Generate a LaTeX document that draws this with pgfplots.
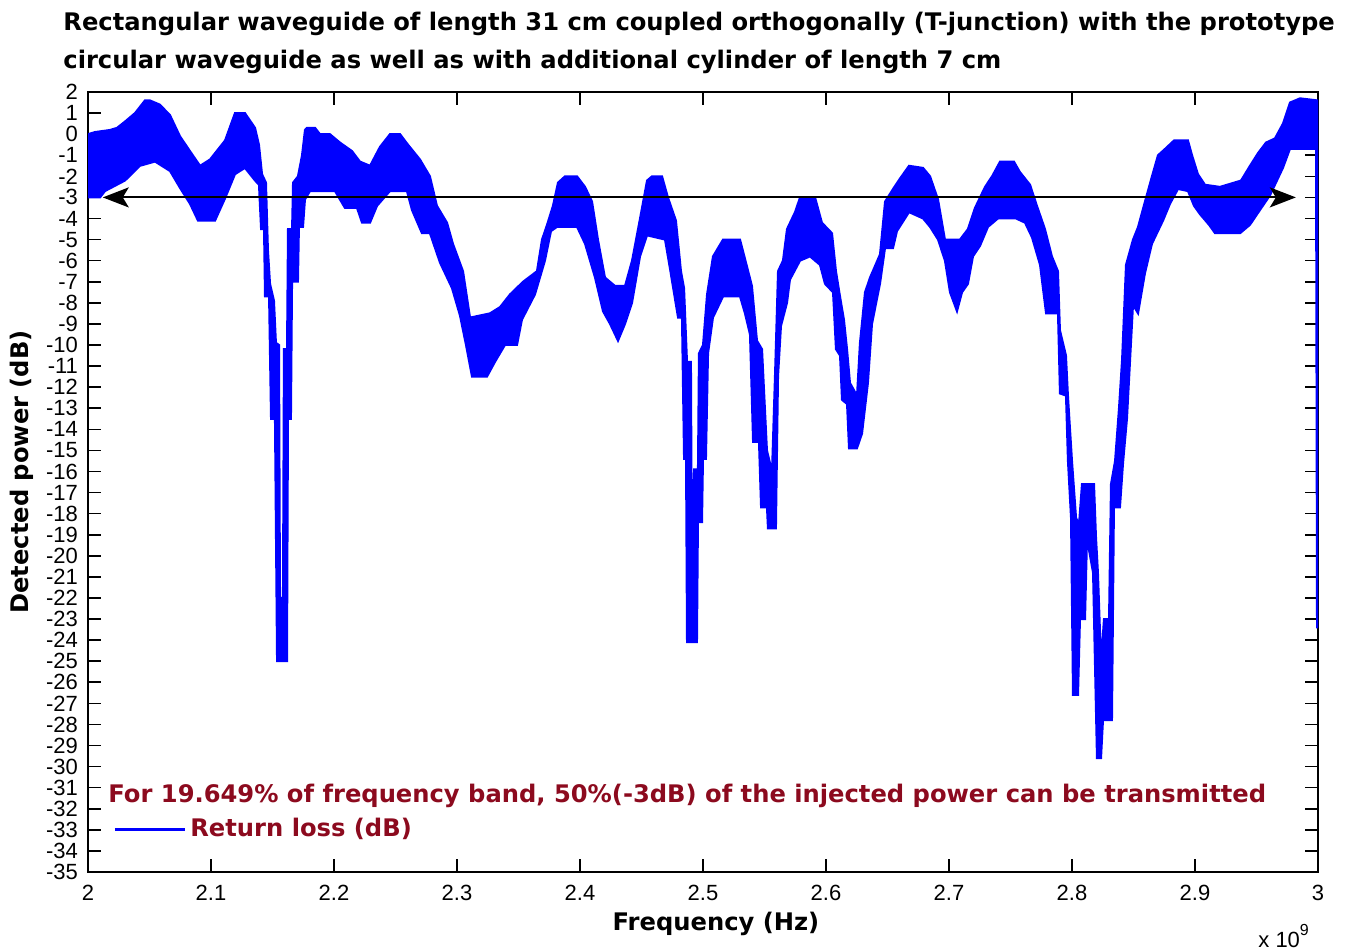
\documentclass[border=0pt]{standalone}
\usepackage{pgfplots}
\pgfplotsset{compat=1.18}
\usepackage{pgfplotstable}
\usepgfplotslibrary{fillbetween}
\usetikzlibrary{arrows.meta}
\usepackage{fontspec}
\setmainfont{Liberation Sans}
\newfontfamily\tfont{DejaVu Sans}
\definecolor{dred}{RGB}{140,10,30}

\pgfplotstableread{
x y
2.0000 0.0
2.0057 0.1
2.0179 0.2
2.0236 0.3
2.0301 0.6
2.0382 1.0
2.0463 1.6
2.0504 1.6
2.0585 1.4
2.0667 0.9
2.0748 -0.1
2.0829 -0.8
2.0911 -1.5
2.0992 -1.2
2.1114 -0.3
2.1195 1.0
2.1276 1.0
2.1358 0.3
2.1390 -0.5
2.1415 -1.9
2.1447 -2.3
2.1463 -5.5
2.1480 -7.1
2.1512 -7.9
2.1528 -9.9
2.1553 -10.0
2.1561 -22.0
2.1585 -22.0
2.1593 -10.2
2.1618 -10.2
2.1626 -4.5
2.1659 -4.5
2.1667 -2.3
2.1707 -2.0
2.1740 -1.0
2.1764 0.2
2.1780 0.3
2.1846 0.3
2.1886 0.0
2.1967 0.0
2.2049 -0.4
2.2146 -0.8
2.2211 -1.3
2.2293 -1.5
2.2374 -0.6
2.2455 0.0
2.2537 0.0
2.2602 -0.5
2.2699 -1.2
2.2780 -2.0
2.2837 -3.4
2.2919 -4.2
2.2967 -5.2
2.3049 -6.5
2.3106 -8.7
2.3268 -8.5
2.3350 -8.2
2.3431 -7.6
2.3537 -7.0
2.3650 -6.5
2.3691 -5.0
2.3732 -4.3
2.3780 -3.4
2.3821 -2.3
2.3878 -2.0
2.3976 -2.0
2.4041 -2.5
2.4098 -3.2
2.4146 -5.0
2.4203 -6.8
2.4285 -7.2
2.4366 -7.2
2.4423 -6.0
2.4488 -4.0
2.4545 -2.2
2.4585 -2.0
2.4667 -2.0
2.4715 -3.0
2.4780 -4.1
2.4821 -6.5
2.4846 -7.3
2.4870 -10.8
2.4902 -10.8
2.4911 -22.0
2.4919 -22.0
2.4927 -15.9
2.4959 -15.9
2.4967 -10.4
2.5000 -10.0
2.5033 -7.6
2.5081 -5.8
2.5163 -5.0
2.5301 -5.0
2.5341 -5.9
2.5398 -7.2
2.5439 -9.8
2.5480 -10.2
2.5520 -15.0
2.5561 -16.0
2.5585 -11.5
2.5610 -6.5
2.5650 -6.0
2.5683 -4.5
2.5748 -3.7
2.5789 -3.0
2.5911 -3.0
2.5967 -4.2
2.6049 -4.7
2.6081 -6.5
2.6114 -7.7
2.6146 -8.8
2.6171 -10.2
2.6195 -11.8
2.6252 -12.4
2.6276 -9.9
2.6317 -7.5
2.6358 -6.8
2.6439 -5.7
2.6480 -3.2
2.6545 -2.6
2.6602 -2.1
2.6675 -1.5
2.6789 -1.6
2.6846 -2.0
2.6911 -3.1
2.6967 -5.0
2.7089 -5.0
2.7154 -4.5
2.7211 -3.5
2.7293 -2.5
2.7350 -2.0
2.7415 -1.3
2.7528 -1.3
2.7577 -1.8
2.7659 -2.4
2.7715 -3.4
2.7780 -4.5
2.7837 -5.8
2.7886 -6.5
2.7902 -9.3
2.7951 -10.5
2.7967 -12.4
2.8000 -15.5
2.8033 -18.2
2.8057 -18.5
2.8081 -16.6
2.8179 -16.6
2.8195 -19.1
2.8211 -20.8
2.8236 -25.0
2.8260 -23.0
2.8301 -23.0
2.8317 -16.6
2.8350 -15.5
2.8382 -13.0
2.8407 -10.7
2.8439 -6.2
2.8496 -5.0
2.8537 -4.4
2.8593 -3.2
2.8650 -2.0
2.8699 -1.0
2.8756 -0.7
2.8829 -0.3
2.8943 -0.3
2.8976 -1.0
2.9024 -1.9
2.9081 -2.4
2.9203 -2.5
2.9374 -2.2
2.9447 -1.5
2.9512 -0.9
2.9577 -0.4
2.9650 -0.2
2.9715 0.5
2.9772 1.5
2.9854 1.7
3.0000 1.6
}\upperdata

\pgfplotstableread{
x y
2.0000 -3.0
2.0098 -3.0
2.0138 -2.7
2.0301 -2.2
2.0423 -1.5
2.0545 -1.3
2.0667 -1.75
2.0748 -2.55
2.0829 -3.3
2.0894 -4.1
2.1033 -4.1
2.1114 -3.05
2.1195 -1.9
2.1276 -1.6
2.1358 -2.2
2.1390 -2.4
2.1407 -4.5
2.1431 -4.5
2.1439 -7.7
2.1472 -7.7
2.1488 -13.5
2.1520 -13.5
2.1537 -25.0
2.1618 -25.0
2.1626 -13.5
2.1650 -13.5
2.1659 -7.0
2.1707 -7.0
2.1715 -4.4
2.1748 -4.4
2.1764 -3.1
2.1805 -2.7
2.2008 -2.7
2.2089 -3.5
2.2187 -3.5
2.2228 -4.2
2.2293 -4.2
2.2350 -3.4
2.2455 -2.7
2.2593 -2.7
2.2634 -3.6
2.2715 -4.7
2.2780 -4.7
2.2862 -6.1
2.2959 -7.3
2.3024 -8.6
2.3073 -10.0
2.3122 -11.5
2.3244 -11.5
2.3309 -10.8
2.3390 -10.0
2.3488 -10.0
2.3528 -8.8
2.3634 -7.6
2.3715 -6.0
2.3764 -4.6
2.3813 -4.4
2.3976 -4.4
2.4041 -5.2
2.4122 -6.8
2.4187 -8.4
2.4244 -9.0
2.4309 -9.8
2.4366 -9.0
2.4423 -8.0
2.4488 -5.8
2.4545 -4.8
2.4691 -5.0
2.4732 -6.4
2.4797 -8.7
2.4829 -8.7
2.4846 -15.4
2.4862 -15.4
2.4870 -24.1
2.4951 -24.1
2.4959 -18.4
2.4992 -18.4
2.5000 -15.4
2.5024 -15.4
2.5041 -10.4
2.5081 -8.7
2.5163 -7.7
2.5301 -7.7
2.5341 -8.5
2.5382 -9.5
2.5407 -14.6
2.5455 -14.6
2.5472 -17.7
2.5520 -17.7
2.5528 -18.7
2.5593 -18.7
2.5610 -11.5
2.5634 -9.1
2.5683 -8.0
2.5707 -6.9
2.5789 -6.0
2.5870 -5.8
2.5951 -6.2
2.5992 -7.1
2.6057 -7.5
2.6081 -10.2
2.6114 -10.5
2.6130 -12.6
2.6171 -12.8
2.6187 -14.9
2.6252 -14.9
2.6293 -14.2
2.6341 -11.8
2.6374 -9.0
2.6439 -7.1
2.6480 -5.4
2.6545 -5.4
2.6577 -4.6
2.6675 -3.7
2.6789 -4.0
2.6846 -4.4
2.6911 -5.0
2.6967 -6.0
2.7008 -7.5
2.7065 -8.4
2.7106 -7.5
2.7154 -7.1
2.7195 -5.8
2.7252 -5.3
2.7317 -4.4
2.7398 -4.0
2.7545 -4.0
2.7618 -4.2
2.7675 -4.9
2.7740 -6.2
2.7789 -8.5
2.7886 -8.5
2.7902 -12.3
2.7951 -12.4
2.7967 -15.5
2.7992 -18.2
2.8008 -26.6
2.8049 -26.6
2.8065 -23.0
2.8106 -23.0
2.8122 -19.2
2.8171 -20.8
2.8203 -29.6
2.8236 -29.6
2.8252 -27.8
2.8325 -27.8
2.8341 -17.7
2.8390 -17.7
2.8415 -15.6
2.8447 -13.5
2.8496 -8.1
2.8537 -8.5
2.8593 -6.6
2.8650 -5.2
2.8740 -4.1
2.8797 -3.3
2.8862 -2.6
2.8943 -2.7
2.8992 -3.4
2.9041 -3.8
2.9114 -4.3
2.9163 -4.7
2.9366 -4.7
2.9447 -4.3
2.9528 -3.6
2.9610 -2.9
2.9715 -1.6
2.9772 -0.7
2.9984 -0.7
2.9992 -23.4
3.0000 -23.4
}\lowerdata

\begin{document}
\begin{tikzpicture}
\begin{axis}[
  at={(0,0)}, anchor=south west, scale only axis,
  width=615pt, height=390pt,
  xmin=2, xmax=3, ymin=-35, ymax=2,
  xtick={2,2.1,2.2,2.3,2.4,2.5,2.6,2.7,2.8,2.9,3},
  xticklabels={2,2.1,2.2,2.3,2.4,2.5,2.6,2.7,2.8,2.9,3},
  ytick={-35,-34,...,2},
  tick align=inside, xtick pos=both, ytick pos=both,
  xticklabel pos=bottom, yticklabel pos=left,
  major tick length=6.5pt,
  tick style={black, line width=0.8pt},
  axis line style={black, line width=0.9pt},
  tick label style={font=\fontsize{11}{11}\selectfont},
  /pgf/number format/assume math mode=true,
  xticklabel style={yshift=-3pt},
  yticklabel style={xshift=-1.5pt},
  legend style={at={(0.0203,0.0551)}, anchor=west, draw=none, fill=none, inner sep=0pt,
    font=\tfont\bfseries\fontsize{12.1}{14}\selectfont, text=dred},
  legend image code/.code={\draw[#1] (0pt,0pt) -- (35pt,0pt);},
  legend cell align=left,
]
\addplot[draw=none, name path=U, forget plot] table {\upperdata};
\addplot[draw=none, name path=L, forget plot] table {\lowerdata};
\addplot[fill=blue, draw=blue, line width=1pt, line join=miter, forget plot] fill between[of=U and L];
\addplot[black, line width=1pt, forget plot,
  {Stealth[length=13pt,width=10pt,inset=3pt]}-{Stealth[length=13pt,width=10pt,inset=3pt]}]
  coordinates {(2.012,-3) (2.982,-3)};
\addlegendimage{blue, line width=1.5pt}
\addlegendentry{Return loss (dB)}
\end{axis}
\node[anchor=base west, inner sep=0pt, font=\tfont\bfseries\fontsize{12.1}{14}\selectfont] at (-12.5pt,420.5pt) {Rectangular waveguide of length 31 cm coupled orthogonally (T-junction) with the prototype};
\node[anchor=base west, inner sep=0pt, font=\tfont\bfseries\fontsize{12.1}{14}\selectfont] at (-12.5pt,401.5pt) {circular waveguide as well as with additional cylinder of length 7 cm};
\node[rotate=90, inner sep=0pt, font=\tfont\bfseries\fontsize{12.1}{14}\selectfont] at (-33pt,200pt) {Detected power (dB)};
\node[anchor=base, inner sep=0pt, font=\tfont\bfseries\fontsize{12.1}{14}\selectfont] at (314pt,-29pt) {Frequency (Hz)};
\node[anchor=base west, inner sep=0pt, text=dred, font=\tfont\bfseries\fontsize{12.1}{14}\selectfont] at (10pt,35pt) {For 19.649\% of frequency band, 50\%(-3dB) of the injected power can be transmitted};
\node[anchor=base west, inner sep=0pt, font=\fontsize{11}{11}\selectfont] at (585pt,-37.5pt) {x 10\raisebox{6pt}{\fontsize{8}{8}\selectfont 9}};
\pgfresetboundingbox
\useasboundingbox (-44pt,-39pt) rectangle (637pt,436pt);
\end{tikzpicture}
\end{document}
